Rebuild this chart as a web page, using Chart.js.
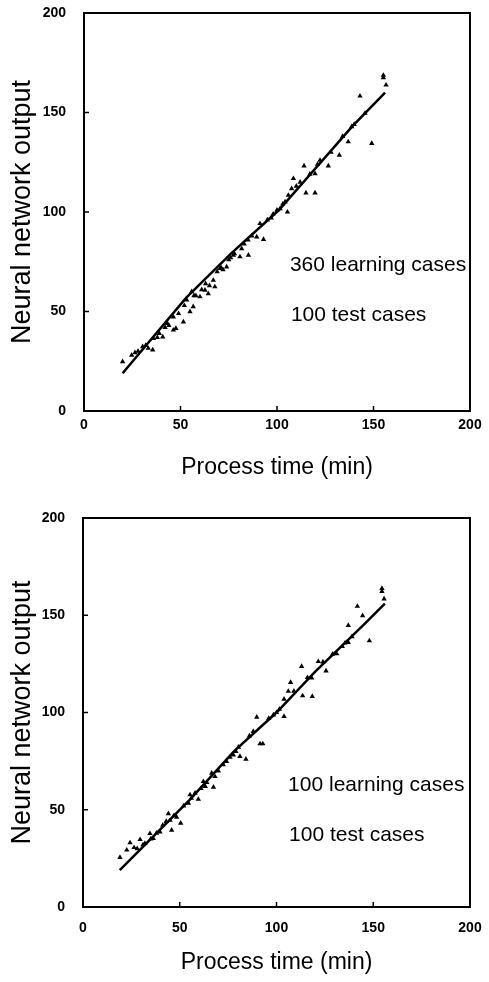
<!DOCTYPE html>
<html>
<head>
<meta charset="utf-8">
<title>Neural network output vs process time</title>
<script src="https://cdn.jsdelivr.net/npm/chart.js@4.4.1/dist/chart.umd.min.js"></script>
<style>
  html, body { margin: 0; padding: 0; background: #fff; }
  #wrap { position: relative; width: 489px; height: 982px; }
  canvas { position: absolute; left: 0; display: block; }
  #topChart { top: 0; }
  #bottomChart { top: 491px; }
</style>
</head>
<body>
<div id="wrap">
  <canvas id="topChart" width="489" height="491"></canvas>
  <canvas id="bottomChart" width="489" height="491"></canvas>
</div>
<script>
/* ── Data ── */
const X_TICKS = [0, 50, 100, 150, 200];
const Y_TICKS = [0, 50, 100, 150, 200];

// top panel: 360 learning cases, 100 test cases
const topTimes   = [20, 24.7, 26.4, 30.4, 33.3, 35.6, 36, 38, 40.8, 43.2, 44, 46.3, 47.6, 46.3, 51.5, 53.2, 55.8, 56.6, 54.9, 58, 60.1,
                    62.7, 64.4, 65, 67, 67.8, 70.5, 72, 73.9, 75, 77.4, 80.8, 81.7, 85, 85.2, 89.5, 93, 91.2, 95, 98, 101.6,
                    105.4, 104.2, 105.9, 108.5, 107.6, 114, 115, 119.7, 119.7, 122.3, 126.6, 128, 132.3, 136.9, 138.7, 143,
                    145.6, 149.1, 155.1, 155.1, 156.5,
                    28, 32, 39, 42, 49, 52, 57, 61, 63, 69, 71, 76, 78, 83, 87, 97, 100, 103, 110, 112, 117, 121, 134, 140];
const topOutputs = [24.8, 28.1, 29.3, 32.3, 31.5, 30.7, 36.4, 37, 37.2, 44, 43, 40.7, 41.5, 47.3, 44.8, 55.8, 60, 52.4, 49.9, 58, 57.4,
                    60.7, 59, 63, 65.7, 62.4, 71.6, 71, 72.4, 76, 78.3, 77.5, 81.6, 86, 78.3, 87.5, 86.2, 94.2, 96, 99, 101.7,
                    100, 105.1, 108.4, 116.8, 111.7, 123.2, 109.6, 109.6, 119.3, 126, 123.2, 130, 128.6, 135.3, 142.9, 158.3,
                    149.6, 134.5, 167.5, 168.7, 163.8,
                    30, 33, 39, 42, 49, 53, 58, 61, 64, 70, 72, 77, 79, 84, 88, 97, 101, 104, 113, 115, 119, 124, 138, 144];
const topFitTimes   = [20, 53, 76, 101, 139, 156];
const topFitOutputs = [19, 57, 79, 101, 143, 160];

// bottom panel: 100 learning cases, 100 test cases
const bottomTimes   = [19.1, 22.6, 24.3, 26.4, 29.5, 32, 34.6, 36.3, 39.8, 41.2, 44.1, 45.8, 45, 48.4, 50.5, 54.5, 55.3, 57.9,
                       59.6, 63.2, 62.2, 67.4, 68.2, 66.5, 72.5, 74.2, 77.7, 80.3, 81.1, 84.2, 88, 89.8, 91.5, 92.9, 98.4,
                       101.5, 103.9, 103.9, 106.1, 107.3, 113, 113.5, 118.5, 118.2, 121.6, 125.6, 131.1, 135.4, 137.1, 137.1,
                       141.8, 144.5, 148, 154.5, 154.5, 155.6,
                       28, 31, 35, 38, 43, 47, 52, 56, 61, 64, 70, 76, 79, 86, 96, 100, 109, 116, 124, 129, 134, 139];
const bottomOutputs = [25.5, 29.3, 33, 30.6, 34.7, 32.7, 37.8, 35.2, 38.6, 42, 48, 39.5, 44.6, 46.2, 43.1, 53.4, 57.7, 58.5,
                       55.4, 62, 64.5, 61.6, 67.1, 68.8, 73.1, 74.8, 78.2, 82.2, 77.4, 76, 90.3, 97.6, 83.9, 83.9, 98.8,
                       101.7, 98, 106.9, 110.9, 115.5, 123.7, 108.6, 108.3, 117.7, 126.2, 121.4, 130.2, 135.7, 136, 144.8,
                       154.6, 149.8, 136.9, 163.8, 162.3, 158.4,
                       30, 32, 35, 38, 44, 47, 52, 56, 61, 64, 70, 77, 80, 88, 97, 100, 111, 118, 126, 130, 134, 139];
const bottomFitTimes   = [19, 55, 78, 100, 120, 145, 156];
const bottomFitOutputs = [19, 55, 80, 100, 121, 145, 156];

const FONT = "'Liberation Sans', Arial, Helvetica, sans-serif";

function toPoints(xs, ys) { return xs.map((x, i) => ({ x, y: ys[i] })); }

/* ── Frame, inward ticks and the case-count notes ── */
const framePlugin = {
  id: 'frame',
  afterDraw(chart, args, opts) {
    const { ctx, chartArea: a, scales } = chart;
    ctx.save();
    ctx.strokeStyle = '#000';
    ctx.lineWidth = 2;
    ctx.strokeRect(a.left, a.top, a.right - a.left, a.bottom - a.top);

    ctx.lineWidth = 1.5;
    ctx.beginPath();
    Y_TICKS.forEach(v => {
      const py = scales.y.getPixelForValue(v);
      ctx.moveTo(a.left, py); ctx.lineTo(a.left + 5, py);
    });
    X_TICKS.forEach(v => {
      const px = scales.x.getPixelForValue(v);
      ctx.moveTo(px, a.bottom); ctx.lineTo(px, a.bottom - 5);
    });
    ctx.stroke();

    ctx.fillStyle = '#000';
    ctx.font = '21px ' + FONT;
    ctx.textBaseline = 'middle';
    ctx.textAlign = 'left';
    (opts.notes || []).forEach(n => {
      ctx.fillText(n.text, scales.x.getPixelForValue(n.x), scales.y.getPixelForValue(n.y));
    });
    ctx.restore();
  }
};

function makeChart(id, cfg) {
  return new Chart(document.getElementById(id), {
    data: {
      datasets: [{
        type: 'line',
        data: toPoints(cfg.fitX, cfg.fitY),
        borderColor: '#000',
        borderWidth: 2.5,
        pointRadius: 0,
        tension: 0,
        fill: false,
        order: 1
      }, {
        type: 'scatter',
        data: toPoints(cfg.xs, cfg.ys),
        pointStyle: 'triangle',
        pointRadius: 3.1,
        backgroundColor: '#000',
        borderColor: '#000',
        borderWidth: 0,
        order: 2
      }]
    },
    options: {
      responsive: false,
      animation: false,
      events: [],
      layout: { padding: { top: cfg.padTop, right: 19, left: 0, bottom: 0 } },
      plugins: {
        legend: { display: false },
        tooltip: { enabled: false },
        frame: { notes: cfg.notes }
      },
      scales: {
        x: {
          type: 'linear',
          min: 0, max: 200,
          afterBuildTicks: s => { s.ticks = X_TICKS.map(v => ({ value: v })); },
          afterFit: s => { s.height = cfg.xHeight; s.paddingLeft = 0; s.paddingRight = 0; },
          grid: { display: false, drawTicks: false },
          border: { display: false },
          ticks: { color: '#000', padding: cfg.xTickPad, font: { family: FONT, size: 14, weight: 'bold' } },
          title: {
            display: true,
            text: 'Process time (min)',
            color: '#000',
            font: { family: FONT, size: 23 },
            padding: { top: 0, bottom: cfg.xTitlePad }
          }
        },
        y: {
          type: 'linear',
          min: 0, max: 200,
          afterBuildTicks: s => { s.ticks = Y_TICKS.map(v => ({ value: v })); },
          afterFit: s => { s.width = cfg.yWidth; s.paddingTop = 0; s.paddingBottom = 0; },
          grid: { display: false, drawTicks: false },
          border: { display: false },
          ticks: { color: '#000', padding: 18, font: { family: FONT, size: 14, weight: 'bold' } },
          title: {
            display: true,
            text: 'Neural network output',
            color: '#000',
            font: { family: FONT, size: 27 },
            padding: { top: 6, bottom: 0 }
          }
        }
      }
    },
    plugins: [framePlugin]
  });
}

makeChart('topChart', {
  xs: topTimes, ys: topOutputs, fitX: topFitTimes, fitY: topFitOutputs,
  padTop: 13, xHeight: 80, yWidth: 84, xTickPad: 6, xTitlePad: 10,
  notes: [
    { text: '360 learning cases', x: 106.7, y: 73.4 },
    { text: '100 test cases', x: 107.2, y: 48.2 }
  ]
});

makeChart('bottomChart', {
  xs: bottomTimes, ys: bottomOutputs, fitX: bottomFitTimes, fitY: bottomFitOutputs,
  padTop: 27, xHeight: 75, yWidth: 83, xTickPad: 13, xTitlePad: 6,
  notes: [
    { text: '100 learning cases', x: 106, y: 62.7 },
    { text: '100 test cases', x: 106.5, y: 37 }
  ]
});
</script>
</body>
</html>
